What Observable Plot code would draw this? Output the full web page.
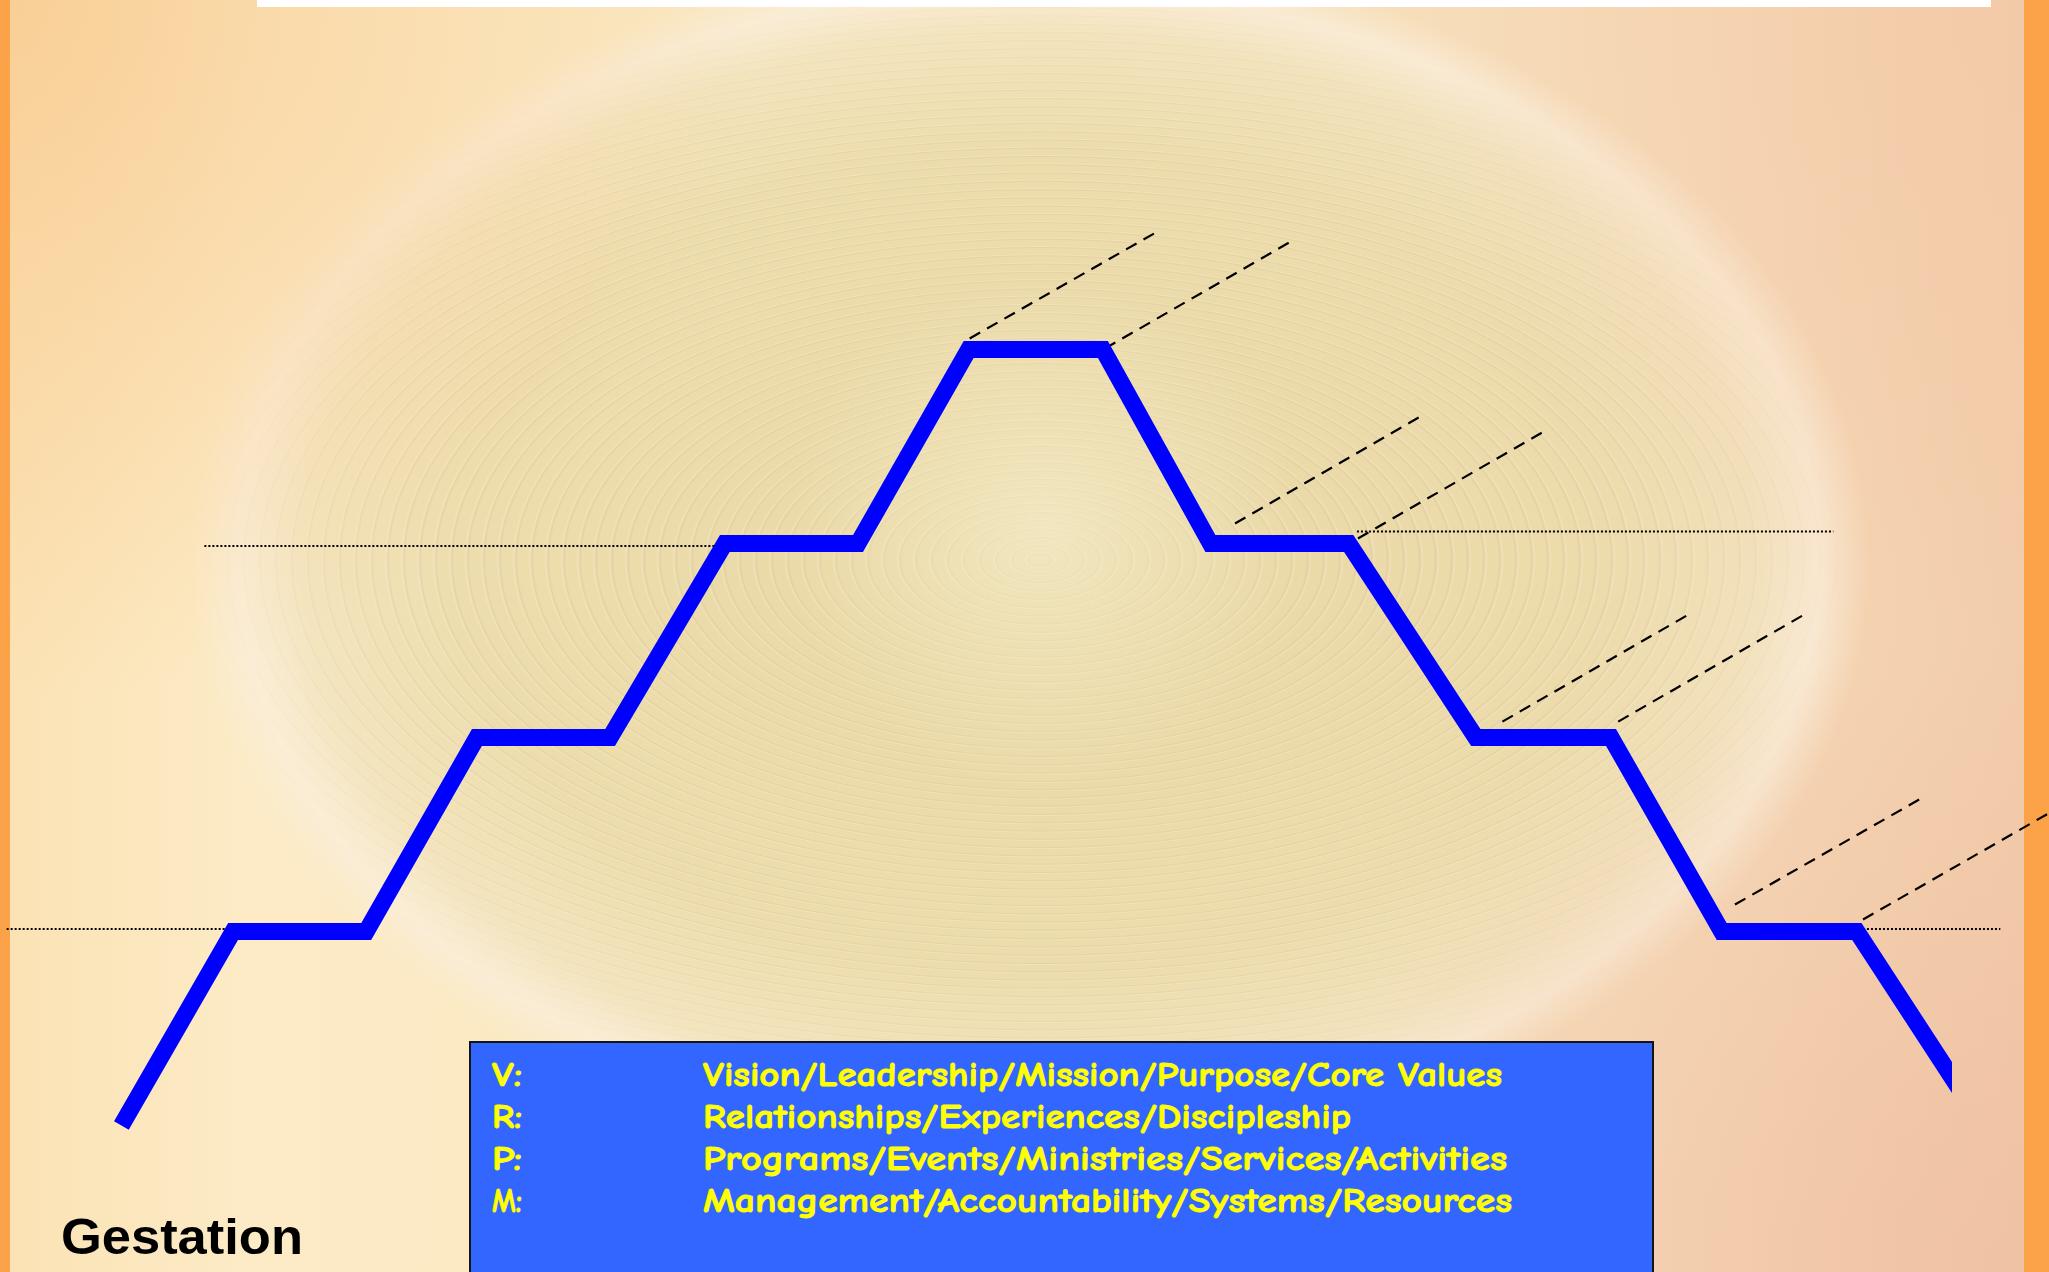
<!DOCTYPE html>
<html>
<head>
<meta charset="utf-8">
<script src="https://cdn.jsdelivr.net/npm/d3@7"></script>
<script src="https://cdn.jsdelivr.net/npm/@observablehq/plot@0.6"></script>
<style>
  html, body { margin: 0; padding: 0; width: 2049px; height: 1272px; overflow: hidden; }
  #bg, #swirl, #chart { position: absolute; left: 0; top: 0; width: 2049px; height: 1272px; }
  #bg {
    background:
      radial-gradient(ellipse 760px 700px at 0px 0px, rgba(248,200,140,0.75), rgba(248,200,140,0) 100%),
      radial-gradient(ellipse 760px 640px at 2049px 1272px, rgba(238,188,160,0.7), rgba(238,188,160,0) 100%),
      radial-gradient(ellipse 620px 700px at 2049px 0px, rgba(244,200,165,0.6), rgba(244,200,165,0) 100%),
      radial-gradient(ellipse 840px 610px at 1030px 560px, rgba(232,214,162,0.9) 0%, rgba(235,219,170,0.86) 68%, rgba(241,227,188,0.8) 86%, rgba(250,238,218,0.8) 94%, rgba(250,238,218,0) 100%),
      linear-gradient(90deg, #FBE2B4 0%, #FCEBC6 12%, #F8E6BF 50%, #F5D7B5 85%, #F2CCAA 100%);
  }
  #swirl {
    background:
      radial-gradient(circle 260px at 1045px 530px, rgba(246,240,208,0.6), rgba(246,240,208,0) 100%),
      repeating-radial-gradient(ellipse 120% 100% at 1040px 560px, rgba(165,135,85,0) 0px, rgba(165,135,85,0) 10px, rgba(165,135,85,0.10) 12px, rgba(255,250,235,0.22) 14px, rgba(165,135,85,0) 16px);
    -webkit-mask-image: radial-gradient(ellipse 830px 600px at 1030px 560px, #000 75%, rgba(0,0,0,0) 100%);
    mask-image: radial-gradient(ellipse 830px 600px at 1030px 560px, #000 75%, rgba(0,0,0,0) 100%);
  }
  #borderL { position: absolute; left: 0; top: 0; width: 10px; height: 1272px; background: #FCA349; }
  #borderR { position: absolute; left: 2024px; top: 0; width: 25px; height: 1272px; background: #FCA349; }
  #topbar { position: absolute; left: 257px; top: 0; width: 1734px; height: 7px; background: #FFFFFF; }
  #key {
    position: absolute; left: 469px; top: 1041px; width: 1185px; height: 240px;
    box-sizing: border-box; border: 2px solid #141414; background: #3366FF;
  }
  #key svg { position: absolute; left: 0; top: 0; }
</style>
</head>
<body>
<div id="bg"></div>
<div id="swirl"></div>
<div id="borderL"></div>
<div id="borderR"></div>
<div id="topbar"></div>
<div id="chart"></div>
<div id="key"></div>
<script>
// ---- data (life-cycle stages: time on x, level on y) ----
const stageX     = [1.18, 2.27, 3.57, 4.65, 5.95, 7.07, 8.37, 9.45, 10.76, 11.81, 13.16, 14.40, 15.72, 16.80, 18.12, 19.60];
const stageLevel = [0,    1,    1,    2,    2,    3,    3,    4,    4,     3,     3,     2,     2,     1,     1,     -0.2];

// dashed guide lines (start/end)
const dashX1 = [9.46, 10.78, 12.05, 13.25, 14.66, 15.79, 16.93, 18.18];
const dashL1 = [4.057, 4.005, 3.103, 3.026, 2.082, 2.082, 1.139, 1.062];
const dashX2 = [11.31, 12.63, 13.91, 15.10, 16.51, 17.64, 18.78, 20.04];
const dashL2 = [4.613, 4.567, 3.670, 3.588, 2.644, 2.644, 1.696, 1.624];

// dotted reference levels
const dotX1    = [0.06, 1.99, 13.24, 18.14];
const dotX2    = [2.26, 7.07, 17.89, 19.52];
const dotLevel = [1.013, 2.987, 3.062, 1.013];

// stage label
const stageLabels = ["Gestation"];
const labelX      = [0.59];
const labelLevel  = [-0.66];

// key
const keyLetters = ["V:", "R:", "P:", "M:"];
const keyTexts = [
  "Vision/Leadership/Mission/Purpose/Core Values",
  "Relationships/Experiences/Discipleship",
  "Programs/Events/Ministries/Services/Activities",
  "Management/Accountability/Systems/Resources"
];

// ---- layout only ----
const keyTextWidths = [799, 648, 804, 809];

const path = stageX.map((x, i) => ({x, level: stageLevel[i]}));
const dashes = dashX1.map((x1, i) => ({x1, y1: dashL1[i], x2: dashX2[i], y2: dashL2[i]}));
const dots = dotX1.map((x1, i) => ({x1, x2: dotX2[i], y: dotLevel[i]}));
const labels = stageLabels.map((t, i) => ({t, x: labelX[i], level: labelLevel[i]}));

const plot = Plot.plot({
  width: 2049,
  height: 1272,
  marginTop: 0, marginLeft: 0, marginBottom: 0, marginRight: 97,
  x: {domain: [0, 20], range: [0, 2049], axis: null},
  y: {domain: [0, 4], range: [1125, 349], axis: null},
  style: {background: "transparent", overflow: "visible"},
  marks: [
    Plot.link(dots, {x1: "x1", x2: "x2", y1: "y", y2: "y", stroke: "#000", strokeWidth: 2, strokeDasharray: "2,2"}),
    Plot.link(dashes, {x1: "x1", y1: "y1", x2: "x2", y2: "y2", stroke: "#000", strokeWidth: 2.2, strokeDasharray: "12,8"}),
    Plot.line(path, {x: "x", y: "level", stroke: "#0000FF", strokeWidth: 17, strokeLinejoin: "miter", strokeLinecap: "butt", strokeMiterlimit: 10, clip: true}),
    Plot.text(labels, {x: "x", y: "level", text: "t", textAnchor: "start", lineAnchor: "bottom",
      fontSize: 50, fontWeight: "bold", fontFamily: "Liberation Sans, Arial, sans-serif", fill: "#000"})
  ]
});
plot.querySelectorAll("text").forEach(t => {
  t.setAttribute("textLength", 242);
  t.setAttribute("lengthAdjust", "spacingAndGlyphs");
});
document.getElementById("chart").appendChild(plot);

// key box text
const ksvg = d3.select("#key").append("svg").attr("width", 1181).attr("height", 236);
const font = "'Comic Sans MS', 'Comic Neue', 'DejaVu Sans', sans-serif";
keyLetters.forEach((L, i) => {
  const yb = 43 + i * 42;
  ksvg.append("text").attr("x", 21).attr("y", yb)
    .attr("fill", "#FFFF00").attr("stroke", "#FFFF00").attr("stroke-width", 0.9)
    .attr("font-family", font).attr("font-weight", "bold").attr("font-size", 35)
    .attr("textLength", 30).attr("lengthAdjust", "spacingAndGlyphs")
    .text(L);
  ksvg.append("text").attr("x", 232).attr("y", yb)
    .attr("fill", "#FFFF00").attr("stroke", "#FFFF00").attr("stroke-width", 0.9)
    .attr("font-family", font).attr("font-weight", "bold").attr("font-size", 35)
    .attr("textLength", keyTextWidths[i]).attr("lengthAdjust", "spacingAndGlyphs")
    .text(keyTexts[i]);
});
</script>
</body>
</html>
